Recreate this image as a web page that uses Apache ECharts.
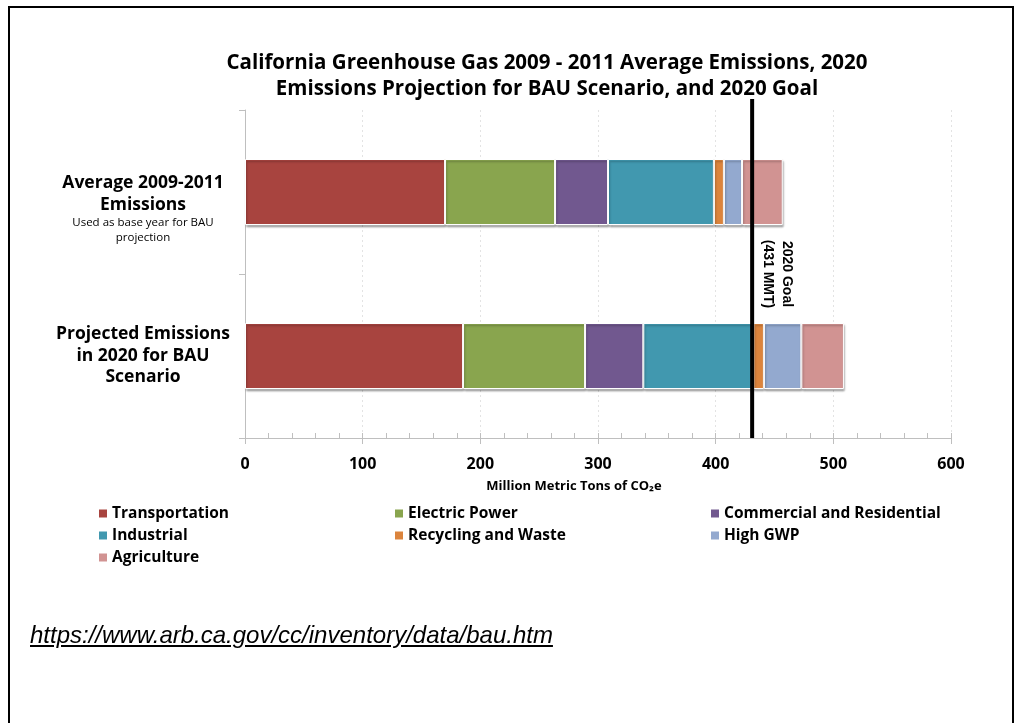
<!DOCTYPE html>
<html>
<head>
<meta charset="utf-8">
<script src="https://cdn.jsdelivr.net/npm/echarts@6/dist/echarts.min.js"></script>
<style>
  html, body { margin: 0; padding: 0; background: #fff; }
  #frame {
    position: absolute; left: 8px; top: 6px; width: 1002px; height: 760px;
    border-left: 2px solid #000; border-top: 2px solid #000; border-right: 2px solid #000;
  }
  #chart { position: absolute; left: 0; top: 0; width: 1019px; height: 723px; }
  #src {
    position: absolute; left: 30px; top: 621px;
    font-family: "Liberation Sans", Arial, sans-serif; font-style: italic;
    font-size: 24px; color: #000; text-decoration: underline;
  }
</style>
</head>
<body>
<div id="frame"></div>
<div id="chart"></div>
<div id="src">https://www.arb.ca.gov/cc/inventory/data/bau.htm</div>
<script>
const categories = ["Average 2009-2011 Emissions", "Projected Emissions in 2020 for BAU Scenario"];
const sectors = ["Transportation", "Electric Power", "Commercial and Residential",
  "Industrial", "Recycling and Waste", "High GWP", "Agriculture"];
const colors = ["#A8443F", "#89A54E", "#71588F", "#4198AF", "#DB843D", "#93A9CF", "#D19392"];

// MMT CO2e, [average 2009-2011, projected 2020 BAU]
const transportation = [170, 185.3];
const electricPower = [93.5, 103.7];
const commercialResidential = [45, 49.5];
const industrial = [90, 93.5];
const recyclingWaste = [8.5, 9];
const highGWP = [15.4, 31.8];
const agriculture = [34.6, 36.2];
const sectorValues = [transportation, electricPower, commercialResidential,
  industrial, recyclingWaste, highGWP, agriculture];

const goal2020 = 431;
const xTicks = [0, 100, 200, 300, 400, 500, 600];

const FONT = "'Open Sans', Lato, sans-serif";
const chart = echarts.init(document.getElementById("chart"));

const barSeries = sectors.map((name, i) => ({
  name: name,
  type: "bar",
  stack: "total",
  barWidth: 66,
  xAxisIndex: 0,
  yAxisIndex: 0,
  itemStyle: {
    color: colors[i],
    borderColor: "#fff",
    borderWidth: 1,
    shadowColor: "rgba(0,0,0,0.3)",
    shadowBlur: 2,
    shadowOffsetX: 1,
    shadowOffsetY: 2,
  },
  data: sectorValues[i],
}));

const legendCols = [
  { left: 97, data: [sectors[0], sectors[3], sectors[6]] },
  { left: 393, data: [sectors[1], sectors[4]] },
  { left: 709, data: [sectors[2], sectors[5]] },
];

const option = {
  backgroundColor: "transparent",
  animation: false,
  title: {
    text: "California Greenhouse Gas 2009 - 2011 Average Emissions, 2020\nEmissions Projection for BAU Scenario, and 2020 Goal",
    left: 542,
    top: 45,
    textAlign: "center",
    textStyle: { fontFamily: FONT, fontWeight: "bold", fontSize: 20.5, lineHeight: 26, color: "#000" },
  },
  legend: legendCols.map((c) => ({
    orient: "vertical",
    left: c.left,
    top: 505,
    padding: 0,
    itemWidth: 10,
    itemHeight: 10,
    itemGap: 5,
    icon: "rect",
    selectedMode: false,
    data: c.data,
    textStyle: { fontFamily: FONT, fontWeight: "bold", fontSize: 15.5, lineHeight: 17, color: "#000", padding: [0, 0, 0, -1] },
  })),
  grid: [
    { left: 245, right: 68, top: 110, bottom: 285 },
    { left: 245, right: 68, top: 99, bottom: 285 },
  ],
  xAxis: [
    {
      type: "value", gridIndex: 0, min: 0, max: 600, interval: 100,
      axisLine: { show: true, lineStyle: { color: "#BFBFBF", width: 1 } },
      axisTick: { show: true, length: 6, lineStyle: { color: "#BFBFBF" } },
      axisLabel: {
        margin: 18, color: "#000", fontFamily: FONT, fontWeight: "bold", fontSize: 16,
        formatter: (v) => (xTicks.indexOf(v) >= 0 ? String(v) : ""),
      },
      splitLine: { show: true, lineStyle: { color: "#E3E3E3", type: [2, 3] } },
      name: "Million Metric Tons of CO\u2082e",
      nameLocation: "middle",
      nameGap: 42,
      nameTextStyle: { color: "#000", fontFamily: FONT, fontWeight: "bold", fontSize: 13, padding: [0, 48, 0, 0] },
    },
    {
      type: "value", gridIndex: 0, min: 0, max: 600, interval: 20, position: "bottom",
      axisLine: { show: false },
      axisTick: { show: true, inside: true, length: 5, lineStyle: { color: "#BFBFBF" } },
      axisLabel: { show: false },
      splitLine: { show: false },
    },
    {
      type: "value", gridIndex: 1, min: 0, max: 600, show: false,
    },
  ],
  yAxis: [
    {
      type: "category", gridIndex: 0, inverse: true, data: categories,
      axisLine: { show: true, lineStyle: { color: "#BFBFBF" } },
      axisTick: { show: true, length: 6, lineStyle: { color: "#BFBFBF" } },
      axisLabel: {
        margin: 102,
        align: "center",
        color: "#000",
        formatter: (v, i) => i === 0
          ? "{gap| }\n{b|Average 2009-2011}\n{b|Emissions}\n{s|Used as base year for BAU}\n{s|projection}"
          : "{b|Projected Emissions}\n{b|in 2020 for BAU}\n{b|Scenario}",
        rich: {
          gap: { fontSize: 10, lineHeight: 34 },
          b: { fontFamily: FONT, fontWeight: "bold", fontSize: 17.5, lineHeight: 21.5, color: "#000", align: "center" },
          s: { fontFamily: FONT, fontSize: 11.5, lineHeight: 15, color: "#000", align: "center" },
        },
      },
      splitLine: { show: false },
    },
    { type: "value", gridIndex: 1, min: 0, max: 1, show: false },
  ],
  series: barSeries.concat([
    {
      name: "2020 Goal",
      type: "line",
      xAxisIndex: 2,
      yAxisIndex: 1,
      symbol: "none",
      lineStyle: { color: "#000", width: 4 },
      z: 10,
      data: [[goal2020, 0], [goal2020, 1]],
    },
  ]),
  graphic: [
    {
      type: "text",
      x: 777,
      y: 274,
      rotation: -Math.PI / 2,
      style: {
        text: "2020 Goal\n(431 MMT)",
        font: "bold 14px 'Liberation Sans', Arial, sans-serif",
        lineHeight: 19,
        fill: "#000",
        align: "center",
        verticalAlign: "middle",
      },
    },
  ],
};

chart.setOption(option);
</script>
</body>
</html>
